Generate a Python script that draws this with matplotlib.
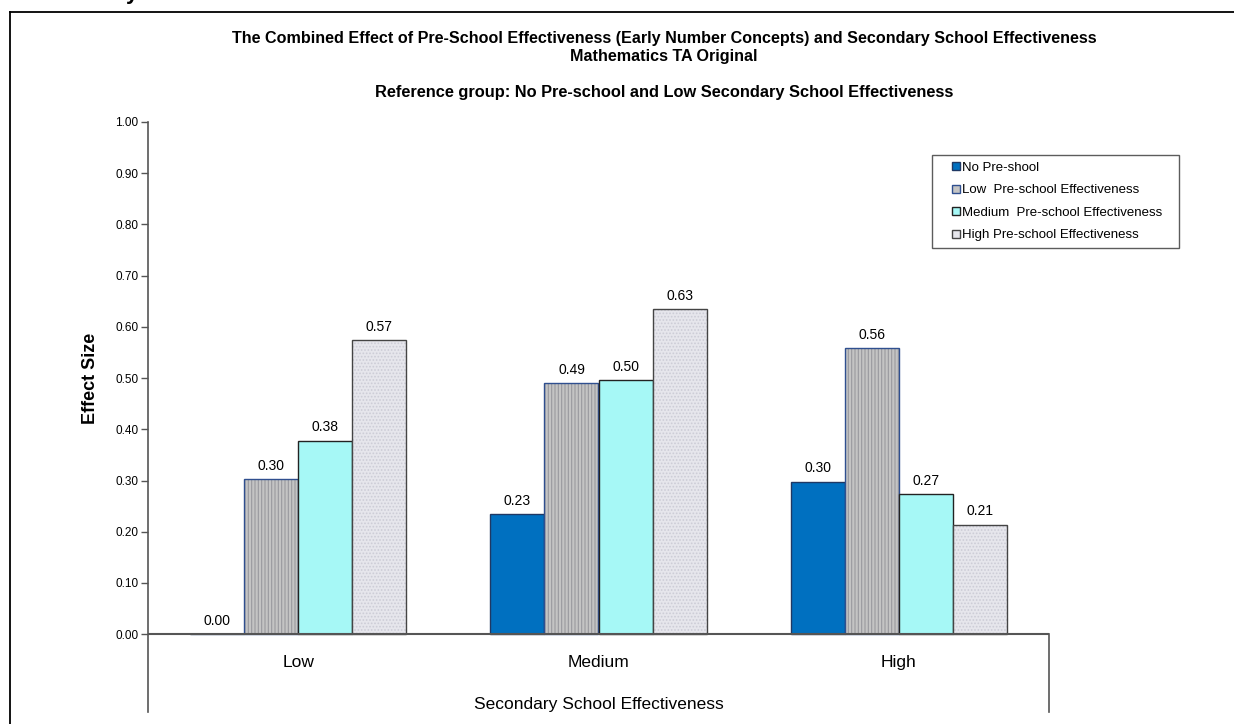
import matplotlib.pyplot as plt
from matplotlib.lines import Line2D
import numpy as np

plt.rcParams['font.family'] = ['Liberation Sans', 'DejaVu Sans']
plt.rcParams['hatch.linewidth'] = 0.8

categories = ['Low', 'Medium', 'High']
series = ['No Pre-shool', 'Low  Pre-school Effectiveness',
          'Medium  Pre-school Effectiveness', 'High Pre-school Effectiveness']
no_pre = [0.00, 0.234, 0.298]
low_pre = [0.302, 0.491, 0.558]
med_pre = [0.378, 0.496, 0.274]
high_pre = [0.574, 0.634, 0.214]
yticks = [0.0, 0.1, 0.2, 0.3, 0.4, 0.5, 0.6, 0.7, 0.8, 0.9, 1.0]

fig = plt.figure(figsize=(12.34, 7.24), dpi=100)
ax = fig.add_axes([148 / 1234, 12 / 724, 901 / 1234, 590 / 724])

x = np.arange(len(categories))
w = 0.18
styles = [
    dict(color='#0070C0', edgecolor='#1F3864', hatch=None),
    dict(color='#C4C4C4', edgecolor='#2F4F8F', hatch='|||||'),
    dict(color='#A6F8F6', edgecolor='#222222', hatch=None),
    dict(color='#E6E6EC', edgecolor='#444444', hatch='.....'),
]
data = [no_pre, low_pre, med_pre, high_pre]
handles = []
for i, (vals, st) in enumerate(zip(data, styles)):
    pos = x + (i - 1.5) * w
    bars = ax.bar(pos, vals, w, facecolor=st['color'], edgecolor=st['edgecolor'],
                  linewidth=1.0, zorder=2)
    if st['hatch']:
        for b in bars:
            b.set_hatch(st['hatch'])
            b._hatch_color = (0.60, 0.60, 0.62, 1.0) if i == 1 else (0.80, 0.80, 0.84, 1.0)
    for p, v in zip(pos, vals):
        ax.text(p, v + 0.012, f'{v:.2f}', ha='center', va='bottom', fontsize=10)
    handles.append(Line2D([], [], linestyle='none', marker='s', markersize=5.5,
                          markerfacecolor=st['color'], markeredgecolor=st['edgecolor'],
                          markeredgewidth=1.0, label=series[i]))

ax.set_xlim(-0.5, 2.5)
ax.set_ylim(-0.152, 1.0)
ax.set_yticks(yticks)
ax.set_yticklabels([f'{t:.2f}' for t in yticks], fontsize=8.5)
ax.set_xticks([])
ax.tick_params(axis='y', direction='out', length=5, width=1, color='#555555', pad=2)

for s in ['top', 'bottom']:
    ax.spines[s].set_visible(False)
ax.spines['left'].set_color('#555555')
ax.spines['left'].set_linewidth(1.2)
ax.spines['right'].set_color('#555555')
ax.spines['right'].set_linewidth(1.2)
ax.spines['right'].set_bounds(-0.152, 0)
ax.axhline(0, color='#555555', linewidth=1.5, zorder=3)

for xi, c in zip(x, categories):
    ax.text(xi, -0.055, c, ha='center', va='center', fontsize=12.5)
ax.text(1, -0.137, 'Secondary School Effectiveness', ha='center', va='center', fontsize=12.5)

ax.set_ylabel('Effect Size', fontsize=13, fontweight='bold')
ax.yaxis.set_label_coords(-0.0545, (0.152 + 0.5) / 1.152)

leg = ax.legend(handles=handles, loc='upper left',
                bbox_to_anchor=(784 / 901, (712 - 155) / 590, (1179 - 932) / 901, 0),
                mode='expand',
                fontsize=9.5, frameon=True, fancybox=False, edgecolor='#333333',
                handlelength=2.6, handletextpad=-0.8,
                labelspacing=0.78, borderpad=0.5, borderaxespad=0)
leg.get_frame().set_linewidth(1.0)

cx = 664 / 1234
fig.text(cx, 1 - 39 / 724, 'The Combined Effect of Pre-School Effectiveness (Early Number Concepts) and Secondary School Effectiveness',
         ha='center', va='center', fontsize=11.6, fontweight='bold')
fig.text(cx, 1 - 57 / 724, 'Mathematics TA Original', ha='center', va='center', fontsize=11.6, fontweight='bold')
fig.text(cx, 1 - 93 / 724, 'Reference group: No Pre-school and Low Secondary School Effectiveness',
         ha='center', va='center', fontsize=11.8, fontweight='bold')

# cut-off heading above the frame
fig.text(132 / 1234, 1 + 1 / 724, 'y', ha='center', va='baseline', fontsize=16, fontweight='bold')

# outer frame
fig.add_artist(Line2D([10 / 1234, 1], [1 - 12 / 724, 1 - 12 / 724], color='black', linewidth=1.3,
                      transform=fig.transFigure))
fig.add_artist(Line2D([10 / 1234, 10 / 1234], [0, 1 - 12 / 724], color='black', linewidth=1.3,
                      transform=fig.transFigure))

fig.savefig('out.png', dpi=100)
